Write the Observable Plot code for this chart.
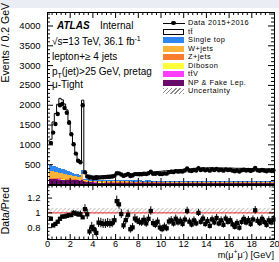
<!DOCTYPE html>
<html>
<head>
<meta charset="utf-8">
<script src="https://cdn.jsdelivr.net/npm/d3@7"></script>
<script src="https://cdn.jsdelivr.net/npm/@observablehq/plot@0.6"></script>
<style>
html,body{margin:0;padding:0;background:#fff;overflow:hidden;}
#wrap{position:relative;width:279px;height:262px;overflow:hidden;font-family:"Liberation Sans",Arial,Helvetica,sans-serif;color:#000;}
#topband{position:absolute;left:0;top:0;width:279px;height:8px;background:#ebedf5;}
.abs{position:absolute;white-space:nowrap;line-height:1;}
sup,sub{font-size:70%;line-height:0;}
</style>
</head>
<body>
<div id="wrap"><div id="topband"></div></div>
<script>
// ---------------- data (bins of 0.2 GeV, first bin 0.2-0.4) ----------------
const binWidth = 0.2;
const firstEdge = 0.2;

const dataCounts = [1050,1310,1525,1780,2000,2030,1930,1810,1560,1265,1015,780,600,560,2000,
310,200,176,174,165,164,178,181,183,
187,194,196,203,217,285,281,251,217,239,266,215,225,263,261,259,259,272,263,285,323,273,270,288,266,
263,280,274,310,321,311,338,324,336,325,352,404,349,338,365,353,413,366,385,357,375,349,383,365,390,359,375,349,382,364,372,350,333,353,327,359,374,353,365,343,367,418,357,344,367,350,333,356,344,359];

const ttbar = [667,1116,1346,1597,1762,1747,1660,1537,1284,1001,733,525,366,337,1780,
167,83,118,102,102,119,100,107,114,
125,130,136,142,148,153,159,164,169,175,180,185,191,196,200,204,209,213,217,221,225,230,234,239,244,
253,258,264,269,274,279,284,289,295,300,305,310,315,320,324,328,331,334,336,339,340,340,340,339,338,337,336,335,334,333,332,331,331,330,329,328,327,326,325,324,323,322,321,320,319,318,317,316,315,314];

const singleTop = [150,145,140,130,125,115,110,100,92,85,78,70,65,60,105,
32,30,30,29,29,28,28,28,27,
27,26,28,27,27,26,28,27,27,26,28,27,27,26,28,27,27,26,28,27,27,26,28,27,27,
26,27,25,26,26,27,25,26,26,26,26,27,25,26,26,27,25,26,26,26,26,27,25,26,26,27,25,26,26,26,26,27,25,26,26,27,25,26,26,26,26,27,25,26,26,27,25,26,26,26];

const wJets = [170,165,160,150,145,135,125,115,105,95,85,78,70,65,110,
32,30,29,28,27,26,26,25,25,
22,23,21,22,22,23,22,21,22,22,23,22,21,22,22,23,22,21,22,22,23,22,21,22,22,
20,21,20,19,20,20,21,20,19,20,20,21,20,19,20,20,21,20,19,20,20,21,20,19,20,20,21,20,19,20,20,21,20,19,20,20,21,20,19,20,20,21,20,19,20,20,21,20,19,20];

const zJets = [25,25,24,23,22,22,21,20,19,18,17,16,15,15,20,
12,12,11,11,11,10,10,10,10,
9,9,9,9,9,9,9,9,9,9,9,9,9,9,9,9,9,9,9,9,9,9,9,9,9,
8,8,8,8,8,8,8,8,8,8,8,8,8,8,8,8,8,8,8,8,8,8,8,8,8,8,8,8,8,8,8,8,8,8,8,8,8,8,8,8,8,8,8,8,8,8,8,8,8,8];

const diboson = [6,6,6,5,5,5,5,5,5,4,4,4,4,4,5,
4,4,4,4,4,4,4,4,4,
3,3,3,3,3,3,3,3,3,3,3,3,3,3,3,3,3,3,3,3,3,3,3,3,3,
3,3,3,3,3,3,3,3,3,3,3,3,3,3,3,3,3,3,3,3,3,3,3,3,3,3,3,3,3,3,3,3,3,3,3,3,3,3,3,3,3,3,3,3,3,3,3,3,3,3];

const ttV = [3,3,3,3,3,3,3,3,3,3,3,3,2,2,3,
3,3,3,3,3,3,3,3,3,
3,3,3,3,3,3,3,3,3,3,3,3,3,3,3,3,3,3,3,3,3,3,3,3,3,
3,3,3,3,3,3,3,3,3,3,3,3,3,3,3,3,3,3,3,3,3,3,3,3,3,3,3,3,3,3,3,3,3,3,3,3,3,3,3,3,3,3,3,3,3,3,3,3,3,3];

const fakeLep = [120,118,115,115,112,110,108,105,100,98,95,92,90,88,105,
45,42,40,38,36,35,34,33,32,
31,31,30,30,29,29,28,28,28,27,27,27,26,26,26,26,25,25,25,25,25,24,24,24,24,
24,24,23,23,23,23,23,23,22,22,22,22,22,22,22,22,22,22,22,21,21,21,21,21,21,21,21,21,21,21,21,21,20,20,20,20,20,20,20,20,20,20,20,20,20,20,20,20,20,20];

// relative uncertainty band in ratio panel (low, high)
const uncBand = [0.975, 1.06];

// stacking order, bottom first
const compNames  = ["NP & Fake Lep.", "ttV", "Diboson", "Z+jets", "W+jets", "Single top", "tt"];
const compColors = ["#680a6a", "#ff3cff", "#ffff3c", "#fb7c2c", "#fdb338", "#2f86ee", "#ffffff"];
const compValues = [fakeLep, ttV, diboson, zJets, wJets, singleTop, ttbar];

// legend (top to bottom)
const legendLabels = ["Data 2015+2016", "tt\u0304", "Single top", "W+jets", "Z+jets", "Diboson", "tt\u0304V", "NP & Fake Lep.", "Uncertainty"];
const legendKinds  = ["data", "tt", "Single top", "W+jets", "Z+jets", "Diboson", "ttV", "NP & Fake Lep.", "unc"];

// ticks
const yTopLabels = [500, 1000, 1500, 2000, 2500, 3000, 3500, 4000];
const yTopMajor = [0, 500, 1000, 1500, 2000, 2500, 3000, 3500, 4000];
const yTopMinor = d3.range(100, 4340, 100).filter(v => v % 500 !== 0);
const xMajor = [0, 2, 4, 6, 8, 10, 12, 14, 16, 18, 20];
const xMinor = d3.range(1, 50).map(i => Math.round(i * 4) / 10).filter(v => Math.abs(v / 2 - Math.round(v / 2)) > 1e-6);
const yRatioMajor = [0.8, 1, 1.2];
const yRatioMinor = [0.65, 0.7, 0.75, 0.85, 0.9, 0.95, 1.05, 1.1, 1.15, 1.25, 1.3, 1.35];

// ---------------- build tables ----------------
const n = dataCounts.length;
const lowEdges = d3.range(n).map(i => Math.round((firstEdge + binWidth * i) * 10) / 10);
const stackRows = [];
const totals = [];
lowEdges.forEach((x1, i) => {
  let acc = 0;
  compValues.forEach((vals, k) => {
    const v = vals[i] || 0;
    stackRows.push({x1, x2: x1 + binWidth, y1: acc, y2: acc + v, name: compNames[k]});
    acc += v;
  });
  totals.push(acc);
});
const outline = lowEdges.map((x, i) => ({x, y: totals[i]})).concat([{x: lowEdges[n - 1] + binWidth, y: totals[n - 1]}]);
const dataRows = dataCounts.map((v, i) => {
  const c = lowEdges[i] + binWidth / 2;
  const e = Math.sqrt(v);
  return {c, v, lo: v - e, hi: v + e, xl: c - binWidth / 2, xh: c + binWidth / 2};
});
const ratioRows = dataCounts.map((v, i) => {
  const c = lowEdges[i] + binWidth / 2;
  const r = v / totals[i];
  const e = r / Math.sqrt(v);
  return {c, r, lo: r - e, hi: r + e};
});
const bandRows = lowEdges.map(x1 => ({x1, x2: x1 + binWidth, lo: uncBand[0], hi: uncBand[1]}));

// ---------------- layout ----------------
const W = 279, ML = 47, MR = 5;
const FW = W - ML - MR;
const FONT = "'Liberation Sans', Arial, Helvetica, sans-serif";
const topH = 185, topMT = 12, topMB = 1;
const topFH = topH - topMT - topMB;
const ratH = 78, ratMT = 1, ratMB = 23;
const ratFH = ratH - ratMT - ratMB;

function tickSet(H, yMaj, yMin, maj, min) {
  return [
    Plot.tickY(yMaj, {y: d => d, insetRight: FW - maj}),
    Plot.tickY(yMaj, {y: d => d, insetLeft: FW - maj}),
    Plot.tickY(yMin, {y: d => d, insetRight: FW - min}),
    Plot.tickY(yMin, {y: d => d, insetLeft: FW - min}),
    Plot.tickX(xMajor, {x: d => d, insetTop: H - maj}),
    Plot.tickX(xMajor, {x: d => d, insetBottom: H - maj}),
    Plot.tickX(xMinor, {x: d => d, insetTop: H - min}),
    Plot.tickX(xMinor, {x: d => d, insetBottom: H - min})
  ];
}

const topSvg = Plot.plot({
  width: W, height: topH,
  marginLeft: ML, marginRight: MR, marginTop: topMT, marginBottom: topMB,
  style: {fontFamily: FONT, fontSize: "10px", background: "transparent", color: "black"},
  x: {domain: [0, 20], axis: null},
  y: {domain: [0, 4340]},
  color: {domain: compNames, range: compColors},
  marks: [
    Plot.rect(stackRows, {x1: "x1", x2: "x2", y1: "y1", y2: "y2", fill: "name", inset: 0, shapeRendering: "crispEdges"}),
    Plot.lineY(outline, {x: "x", y: "y", curve: "step-after", stroke: "black", strokeWidth: 1}),
    Plot.ruleX(dataRows, {x: "c", y1: "lo", y2: "hi", stroke: "black"}),
    Plot.ruleY(dataRows, {y: "v", x1: "xl", x2: "xh", stroke: "black"}),
    Plot.dot(dataRows, {x: "c", y: "v", r: 2.2, fill: "black"}),
    ...tickSet(topFH, yTopMajor, yTopMinor, 6, 3),
    Plot.axisY(yTopLabels, {anchor: "left", tickSize: 0, tickPadding: 7, tickFormat: d => String(d), fontSize: 9.5}),
    Plot.frame({stroke: "black"})
  ]
});

const ratioSvg = Plot.plot({
  width: W, height: ratH,
  marginLeft: ML, marginRight: MR, marginTop: ratMT, marginBottom: ratMB,
  style: {fontFamily: FONT, fontSize: "10px", background: "transparent", color: "black"},
  x: {domain: [0, 20]},
  y: {domain: [0.64, 1.37]},
  marks: [
    Plot.rect(bandRows, {x1: "x1", x2: "x2", y1: "lo", y2: "hi", fill: "url(#hatch)", inset: 0}),
    Plot.ruleY([1], {stroke: "#ee2a2a", strokeWidth: 1}),
    Plot.ruleX(ratioRows, {x: "c", y1: "lo", y2: "hi", stroke: "black"}),
    Plot.dot(ratioRows, {x: "c", y: "r", r: 2.4, symbol: "square", fill: "black"}),
    ...tickSet(ratFH, yRatioMajor, yRatioMinor, 5, 2.5),
    Plot.axisY(yRatioMajor, {anchor: "left", tickSize: 0, tickPadding: 7, tickFormat: d => String(d), fontSize: 9.5}),
    Plot.axisX(xMajor, {anchor: "bottom", tickSize: 0, tickPadding: 1, tickFormat: d => String(d), fontSize: 9.2}),
    Plot.frame({stroke: "black"})
  ]
});

const ns = "http://www.w3.org/2000/svg";
const defs = document.createElementNS(ns, "defs");
defs.innerHTML = '<pattern id="hatch" width="3" height="3" patternUnits="userSpaceOnUse" patternTransform="rotate(45)"><line x1="0" y1="0" x2="0" y2="3" stroke="#8a8a8a" stroke-width="1"/></pattern>';
ratioSvg.insertBefore(defs, ratioSvg.firstChild);

const wrap = document.getElementById("wrap");
topSvg.style.position = "absolute"; topSvg.style.left = "0px"; topSvg.style.top = "0px";
ratioSvg.style.position = "absolute"; ratioSvg.style.left = "0px"; ratioSvg.style.top = "184px";
wrap.appendChild(topSvg);
wrap.appendChild(ratioSvg);

// ---------------- text overlays ----------------
function addText(html, left, top, size, extra) {
  const d = document.createElement("div");
  d.className = "abs";
  d.style.left = left + "px";
  d.style.top = top + "px";
  d.style.fontSize = size + "px";
  if (extra) d.style.cssText += extra;
  d.innerHTML = html;
  wrap.appendChild(d);
  return d;
}
addText('<b><i>ATLAS</i></b>', 57, 20.8, 10);
addText('Internal', 100, 20.8, 10);
addText('\u221As=13 TeV, 36.1 fb<sup>-1</sup>', 52, 37.3, 10);
addText('lepton+\u2265 4 jets', 52, 52.3, 10);
addText('p<sub>T</sub>(jet)>25 GeV, pretag', 52, 66.8, 10);
addText('\u03BC-Tight', 52, 80.3, 10);

// y titles
addText('Events / 0.2 GeV', 0, 3, 10.5, 'writing-mode:vertical-rl;transform:rotate(180deg);');
addText('Data/Pred', 0, 187, 10.5, 'writing-mode:vertical-rl;transform:rotate(180deg);');
// x title (right aligned to frame end)
const xt = addText('m(\u03BC<sup>+</sup>\u03BC<sup>-</sup>) [GeV]', 0, 251.3, 9.2);
xt.style.left = "auto"; xt.style.right = (279 - 274) + "px";

// legend
const legX = 163, legSW = 21, legTextX = 188, legY0 = 23, legStep = 8.5, legFS = 7.4, swH = 6;
legendLabels.forEach((lab, k) => {
  const cy = legY0 + legStep * k;
  const kind = legendKinds[k];
  if (kind === "data") {
    const ln = document.createElement("div");
    ln.style.cssText = `position:absolute;left:${legX}px;top:${cy - 0.5}px;width:${legSW + 1}px;height:1px;background:#000;`;
    wrap.appendChild(ln);
    const dt = document.createElement("div");
    dt.style.cssText = `position:absolute;left:${legX + legSW / 2 - 2.2}px;top:${cy - 2.2}px;width:4.4px;height:4.4px;border-radius:50%;background:#000;`;
    wrap.appendChild(dt);
  } else {
    const sw = document.createElement("div");
    let bg;
    if (kind === "unc") bg = "background:repeating-linear-gradient(135deg,#8a8a8a 0 1px,transparent 1px 3px);";
    else if (kind === "tt") bg = "background:#fff;border:1px solid #000;box-sizing:border-box;";
    else bg = "background:" + compColors[compNames.indexOf(kind)] + ";";
    sw.style.cssText = `position:absolute;left:${legX}px;top:${cy - swH / 2}px;width:${legSW}px;height:${swH}px;` + bg;
    wrap.appendChild(sw);
  }
  addText(lab, legTextX, cy - 0.47 * legFS - 0.3, legFS, 'letter-spacing:0.45px;');
});
</script>
</body>
</html>
